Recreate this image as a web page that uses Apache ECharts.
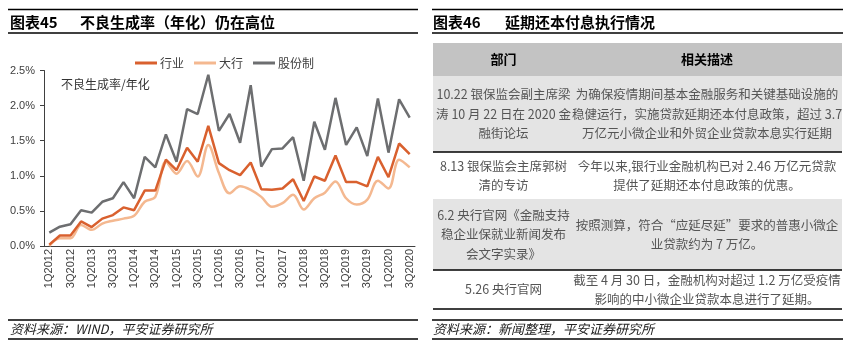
<!DOCTYPE html>
<html>
<head>
<meta charset="utf-8">
<title>不良生成率 / 延期还本付息</title>
<script src="https://cdn.jsdelivr.net/npm/echarts@6/dist/echarts.min.js"></script>
<style>
html, body { margin: 0; padding: 0; background: #fff; }
#main { width: 852px; height: 351px; }
</style>
</head>
<body>
<div id="main"></div>
<script>
// 季度
var quarters = ['1Q2012','2Q2012','3Q2012','4Q2012','1Q2013','2Q2013','3Q2013','4Q2013',
	'1Q2014','2Q2014','3Q2014','4Q2014','1Q2015','2Q2015','3Q2015','4Q2015',
	'1Q2016','2Q2016','3Q2016','4Q2016','1Q2017','2Q2017','3Q2017','4Q2017',
	'1Q2018','2Q2018','3Q2018','4Q2018','1Q2019','2Q2019','3Q2019','4Q2019',
	'1Q2020','2Q2020','3Q2020'];
// 不良生成率(年化, %)
var hangye = [0.02,0.15,0.15,0.35,0.27,0.39,0.44,0.55,0.51,0.79,0.79,1.23,1.08,1.40,1.20,1.71,
	1.18,1.08,1.01,1.19,0.81,0.80,0.82,0.95,0.64,0.99,0.93,1.29,0.91,0.91,0.85,1.27,0.98,1.46,1.31];
var dahang = [0.00,0.11,0.11,0.30,0.23,0.32,0.36,0.39,0.43,0.63,0.70,1.20,1.03,1.21,0.99,1.44,
	1.04,0.75,0.85,0.80,0.70,0.56,0.61,0.73,0.52,0.68,0.76,0.92,0.68,0.59,0.66,0.93,0.82,1.23,1.12];
var gufen = [0.19,0.275,0.31,0.51,0.475,0.63,0.68,0.91,0.68,1.27,1.12,1.59,1.20,1.95,1.88,2.44,
	1.64,1.88,1.47,2.29,1.13,1.38,1.39,1.55,0.93,1.77,1.37,2.11,1.44,1.69,1.28,2.10,1.33,2.09,1.83];

// 表格内容
var tableHead = ['部门', '相关描述'];
var depts = [
	'10.22 银保监会副主席梁\n涛 10 月 22 日在 2020 金\n融街论坛',
	'8.13 银保监会主席郭树\n清的专访',
	'6.2 央行官网《金融支持\n稳企业保就业新闻发布\n会文字实录》',
	'5.26 央行官网'
];
var descs = [
	'为确保疫情期间基本金融服务和关键基础设施的\n稳健运行，实施贷款延期还本付息政策，超过 3.7\n万亿元小微企业和外贸企业贷款本息实行延期',
	'今年以来,银行业金融机构已对 2.46 万亿元贷款\n提供了延期还本付息政策的优惠。',
	'按照测算，符合“应延尽延”要求的普惠小微企\n业贷款约为 7 万亿。',
	'截至 4 月 30 日，金融机构对超过 1.2 万亿受疫情\n影响的中小微企业贷款本息进行了延期。'
];

var CJK = '"Noto Sans CJK SC", sans-serif';
var LAT = '"Liberation Sans", Arial, sans-serif';

function txt(x, y, s, font, color, align, extra) {
	var st = { x: x, y: y, text: s, font: font, fill: color || '#000',
		align: align || 'left', textAlign: align || 'left',
		verticalAlign: 'middle', textVerticalAlign: 'middle' };
	if (extra) for (var k in extra) st[k] = extra[k];
	return { type: 'text', silent: true, style: st };
}
function hline(x1, x2, y, w) {
	return { type: 'line', silent: true, shape: { x1: x1, y1: y, x2: x2, y2: y },
		style: { stroke: '#000', lineWidth: w || 1.3 } };
}
function box(x, y, w, h, c) {
	return { type: 'rect', silent: true, shape: { x: x, y: y, width: w, height: h }, style: { fill: c } };
}

var g = [];
// 左侧标题与来源
g.push(hline(8, 418, 9.5), hline(8, 418, 33));
g.push(txt(10, 22, '图表45', 'bold 15px ' + CJK, '#000'));
g.push(txt(80, 22, '不良生成率（年化）仍在高位', 'bold 15px ' + CJK, '#000'));
g.push(txt(61, 84, '不良生成率/年化', '12px ' + CJK, '#333'));
g.push(hline(8, 418, 320), hline(8, 418, 339));
g.push(txt(10, 329.5, '资料来源：WIND，平安证券研究所', 'italic 13px ' + CJK, '#222'));

// 右侧标题
g.push(hline(432, 843, 9.5), hline(432, 843, 33));
g.push(txt(433, 22, '图表46', 'bold 15px ' + CJK, '#000'));
g.push(txt(505, 22, '延期还本付息执行情况', 'bold 15px ' + CJK, '#000'));

// 表格
var tx0 = 433, tx1 = 842, colSplit = 572;
var leftC = (tx0 + colSplit) / 2 + 1, rightC = (colSplit + tx1) / 2;
g.push(box(tx0, 43, tx1 - tx0, 33, '#c3c3c3'));
g.push(txt(leftC, 59.5, tableHead[0], 'bold 13px ' + CJK, '#000', 'center'));
g.push(txt(rightC, 59.5, tableHead[1], 'bold 13px ' + CJK, '#000', 'center'));
var rowTop = [76, 152, 199, 270];
var rowBot = [152, 199, 270, 309];
for (var i = 0; i < depts.length; i++) {
	if (i % 2 === 0) g.push(box(tx0, rowTop[i], tx1 - tx0, rowBot[i] - rowTop[i], '#e4e4e4'));
	var cy = (rowTop[i] + rowBot[i]) / 2;
	g.push(txt(leftC, cy, depts[i], '12.5px ' + CJK, '#555', 'center', { lineHeight: 19.5 }));
	g.push(txt(rightC, cy, descs[i], '12.5px ' + CJK, '#555', 'center', { lineHeight: 19.5 }));
	if (i !== 1) g.push(hline(tx0, tx1, rowBot[i], 1.5));
}
g.push(hline(432, 843, 320), hline(432, 843, 339));
g.push(txt(433, 329.5, '资料来源：新闻整理，平安证券研究所', 'italic 13px ' + CJK, '#222'));

var myChart = echarts.init(document.getElementById('main'));
var option = {
	backgroundColor: '#fff',
	animation: false,
	legend: {
		left: 130, top: 52,
		itemWidth: 22, itemHeight: 3, itemGap: 10,
		icon: 'rect',
		textStyle: { fontSize: 12, color: '#404040', fontFamily: CJK, padding: [0, 0, 0, -2] },
		data: ['行业', '大行', '股份制']
	},
	grid: { left: 44, right: 437, top: 70.5, bottom: 105 },
	xAxis: {
		type: 'category',
		data: quarters,
		boundaryGap: true,
		axisLine: { lineStyle: { color: '#404040', width: 1 } },
		axisTick: { interval: 0, length: 4, lineStyle: { color: '#404040' } },
		axisLabel: { interval: 1, rotate: 90, margin: 3, fontSize: 11, color: '#404040', fontFamily: LAT }
	},
	yAxis: {
		type: 'value',
		min: 0, max: 2.5, interval: 0.5,
		splitLine: { show: false },
		axisLine: { show: true, lineStyle: { color: '#404040', width: 1 } },
		axisTick: { show: true, length: 4, lineStyle: { color: '#404040' } },
		axisLabel: { margin: 9, fontSize: 11, color: '#404040', fontFamily: LAT,
			formatter: function (v) { return v.toFixed(1) + '%'; } }
	},
	series: [
		{ name: '行业', type: 'line', data: hangye, symbol: 'none', z: 4,
			lineStyle: { color: '#d9602e', width: 2.5 }, itemStyle: { color: '#d9602e' } },
		{ name: '大行', type: 'line', data: dahang, symbol: 'none', smooth: 0.35, z: 3,
			lineStyle: { color: '#f4b890', width: 2.5 }, itemStyle: { color: '#f4b890' } },
		{ name: '股份制', type: 'line', data: gufen, symbol: 'none', z: 2,
			lineStyle: { color: '#6d6e70', width: 2.5 }, itemStyle: { color: '#6d6e70' } }
	],
	graphic: g
};
myChart.setOption(option);
</script>
</body>
</html>
